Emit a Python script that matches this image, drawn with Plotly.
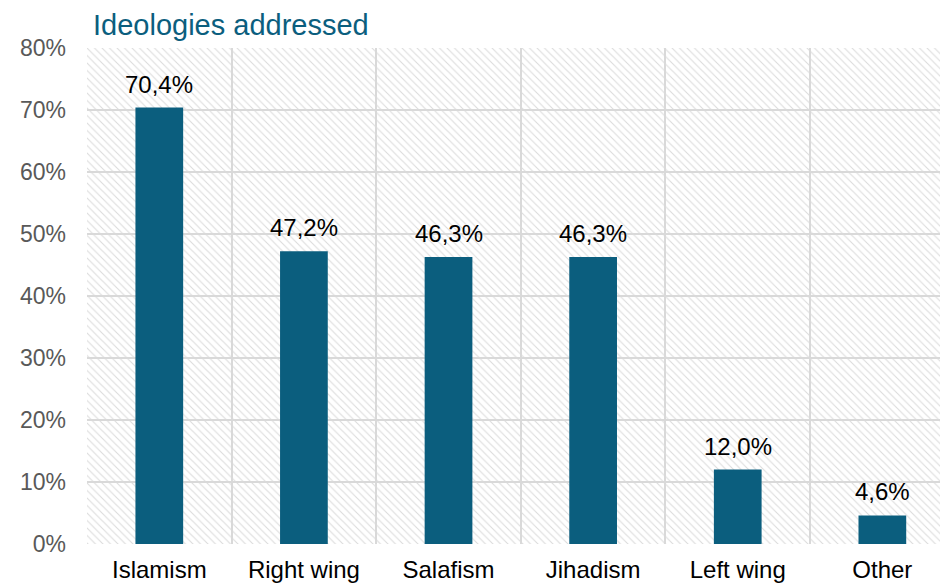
import base64
import plotly.graph_objects as go

categories = ["Islamism", "Right wing", "Salafism", "Jihadism", "Left wing", "Other"]
shares = [70.4, 47.2, 46.3, 46.3, 12.0, 4.6]

BAR = "#0b5e7e"
GRID = "#d9d9d9"
FONT = "Liberation Sans, Arial, sans-serif"

# the page body has an 8px margin, so the figure is laid out 8px up/left
# light diagonal hatch behind the bars, as an svg tile stretched over the plot area
hatch_svg = (
    '<svg xmlns="http://www.w3.org/2000/svg" width="861" height="496">'
    '<defs><pattern id="h" patternUnits="userSpaceOnUse" width="7.5" height="7.5">'
    '<path d="M-2,5.5 L2,9.5 M0,0 L7.5,7.5 M5.5,-2 L9.5,2" stroke="#dcdcdc" stroke-width="1.1"/>'
    '</pattern></defs>'
    '<rect width="861" height="496" fill="white"/>'
    '<rect width="861" height="496" fill="url(#h)"/></svg>'
)
hatch_uri = "data:image/svg+xml;base64," + base64.b64encode(hatch_svg.encode()).decode()

fig = go.Figure()
fig.add_trace(go.Bar(x=categories, y=shares, width=0.33,
                     marker=dict(color=BAR, line=dict(width=0)),
                     hoverinfo="skip"))

for cat, val in zip(categories, shares):
    fig.add_annotation(x=cat, y=val, text=f"{val:.1f}%".replace(".", ","),
                       showarrow=False, yanchor="bottom", yshift=8,
                       font=dict(family=FONT, size=24, color="#000000"))

fig.add_layout_image(source=hatch_uri, xref="paper", yref="paper", x=0, y=1,
                     sizex=1, sizey=1, xanchor="left", yanchor="top",
                     sizing="stretch", layer="below")

fig.update_layout(
    width=948, height=584,
    margin=dict(l=79, r=8, t=40, b=48),
    paper_bgcolor="white",
    plot_bgcolor="rgba(0,0,0,0)",
    showlegend=False,
    title=dict(text="Ideologies addressed", x=85 / 948, xanchor="left",
               y=1 - 17 / 584, yanchor="middle", yref="container",
               font=dict(family=FONT, size=29, color=BAR)),
    font=dict(family=FONT),
)
fig.update_xaxes(range=[-0.5, 5.454], tickson="boundaries", showgrid=True,
                 gridcolor=GRID, gridwidth=2, ticks="", showline=False,
                 zeroline=False, ticklabelstandoff=9,
                 tickfont=dict(family=FONT, size=24, color="#000000"))
fig.update_yaxes(range=[0, 80], tick0=0, dtick=10, ticksuffix="%",
                 showgrid=True, gridcolor=GRID, gridwidth=2, zeroline=False,
                 showline=False, ticks="", ticklabelstandoff=20,
                 tickfont=dict(family=FONT, size=23, color="#595959"))

fig.write_html("out.html")
